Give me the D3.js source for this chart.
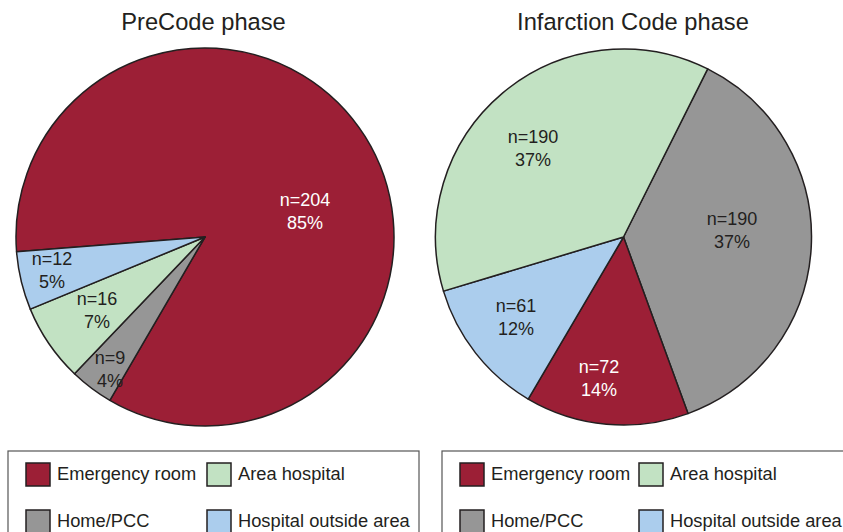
<!DOCTYPE html>
<html><head><meta charset="utf-8">
<script src="https://cdn.jsdelivr.net/npm/d3@7"></script>
<style>body{margin:0;background:#fff}svg{display:block}text{font-family:"Liberation Sans",Arial,sans-serif}</style>
</head><body>
<svg id="c" width="843" height="532"></svg>
<script>
const categories = ["Emergency room", "Home/PCC", "Area hospital", "Hospital outside area"];
const colors = ["#9c1f36", "#969696", "#c2e2c3", "#abcded"];
const preCodeValues = [204, 9, 16, 12];          // Emergency, Home/PCC, Area, Outside
const preCodePercents = ["85%", "4%", "7%", "5%"];
const preCodeOrder = [0, 1, 2, 3];
const infarctionValues = [72, 190, 190, 61];
const infarctionPercents = ["14%", "37%", "37%", "12%"];
const infarctionOrder = [1, 0, 3, 2];
const titles = ["PreCode phase", "Infarction Code phase"];

const svg = d3.select("#c");
const deg = Math.PI / 180;

const pies = [
  {title: titles[0], values: preCodeValues, pct: preCodePercents, order: preCodeOrder,
   cx: 205, cy: 237, r: 189, start: -94.5, tx: 203.5,
   labels: [[305, 200], [110, 358], [97, 299], [52, 259]]},
  {title: titles[1], values: infarctionValues, pct: infarctionPercents, order: infarctionOrder,
   cx: 623.5, cy: 237, r: 188, start: 26.6, tx: 633,
   labels: [[599, 367], [732, 219], [533, 137], [516, 306]]}
];

pies.forEach(p => {
  const g = svg.append("g").attr("transform", `translate(${p.cx},${p.cy})`);
  const data = p.order.map(i => ({i, v: p.values[i]}));
  const arcs = d3.pie().sort(null).value(d => d.v)
    .startAngle(p.start * deg).endAngle(p.start * deg + 2 * Math.PI)(data);
  const arc = d3.arc().innerRadius(0).outerRadius(p.r);
  g.selectAll("path").data(arcs).join("path")
    .attr("d", arc)
    .attr("fill", d => colors[d.data.i])
    .attr("stroke", "#231f20").attr("stroke-width", 1.5).attr("stroke-linejoin", "round");
  svg.append("text").attr("x", p.tx).attr("y", 30).attr("text-anchor", "middle")
    .attr("font-size", 23.7).attr("fill", "#231f20").text(p.title);
  p.order.forEach(i => {
    const [x, y] = p.labels[i];
    const fill = i === 0 ? "#ffffff" : "#231f20";
    const t = svg.append("text").attr("text-anchor", "middle").attr("font-size", 18).attr("fill", fill);
    t.append("tspan").attr("x", x).attr("y", y + 6).text("n=" + p.values[i]);
    t.append("tspan").attr("x", x).attr("y", y + 29).text(p.pct[i]);
  });
});

// Legends
const legends = [{x: 8, w: 411, c2: 207}, {x: 442, w: 420, c2: 639}];
legends.forEach(L => {
  const g = svg.append("g");
  g.append("rect").attr("x", L.x).attr("y", 451).attr("width", L.w).attr("height", 100)
    .attr("fill", "none").attr("stroke", "#555").attr("stroke-width", 1.2);
  const col1 = L.x + 18;
  const pos = [[col1, 463], [col1, 510], [L.c2, 463], [L.c2, 510]];
  categories.forEach((c, i) => {
    const [x, y] = pos[i];
    g.append("rect").attr("x", x).attr("y", y).attr("width", 24).attr("height", 23)
      .attr("fill", colors[i]).attr("stroke", "#231f20").attr("stroke-width", 1.5);
    g.append("text").attr("x", x + 31).attr("y", y + 17).attr("font-size", 18.3)
      .attr("fill", "#231f20").text(c);
  });
});
</script>
</body></html>
